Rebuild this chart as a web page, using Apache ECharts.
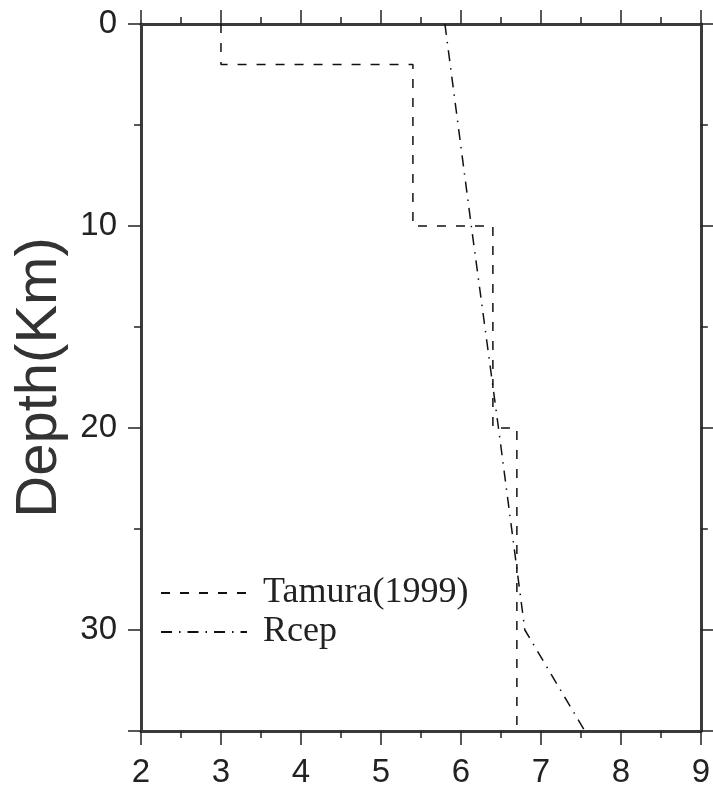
<!DOCTYPE html>
<html>
<head>
<meta charset="utf-8">
<script src="https://cdn.jsdelivr.net/npm/echarts@6/dist/echarts.min.js"></script>
<style>
  html, body { margin: 0; padding: 0; background: #fff; }
  #chart { width: 713px; height: 794px; }
</style>
</head>
<body>
<div id="chart"></div>
<script>
// Velocity models: [velocity (km/s), depth (km)]
const tamuraName = 'Tamura(1999)';
const tamuraVelocity = [3, 3, 5.4, 5.4, 6.4, 6.4, 6.7, 6.7];
const tamuraDepth    = [0, 2, 2, 10, 10, 20, 20, 35];

const rcepName = 'Rcep';
const rcepVelocity = [5.8, 6.13, 6.47, 6.8, 7.55];
const rcepDepth    = [0, 10, 20, 30, 35];

const xTicks = [2, 3, 4, 5, 6, 7, 8, 9];
const yTicks = [0, 10, 20, 30];
const yTitle = 'Depth(Km)';

const pairs = (xs, ys) => xs.map((x, i) => [x, ys[i]]);

const axisLineStyle = { color: '#3a3a3a', width: 3 };
const tickStyle = { color: '#222', width: 1.5 };

function xAxisDef(pos, showLabels) {
  return {
    type: 'value', position: pos,
    min: xTicks[0], max: xTicks[xTicks.length - 1], interval: 1,
    axisLine: { show: true, onZero: false, lineStyle: axisLineStyle },
    axisTick: { show: true, inside: false, length: 14, lineStyle: tickStyle },
    minorTick: { show: true, splitNumber: 2, length: 7, lineStyle: tickStyle },
    splitLine: { show: false },
    axisLabel: {
      show: showLabels, margin: 25, color: '#222',
      fontFamily: 'Liberation Sans, Arial, sans-serif', fontSize: 33
    }
  };
}

function yAxisDef(pos, showLabels) {
  return {
    type: 'value', position: pos, inverse: true,
    min: 0, max: 35, interval: 10,
    axisLine: { show: true, onZero: false, lineStyle: axisLineStyle },
    axisTick: { show: true, inside: false, length: 13, lineStyle: tickStyle },
    minorTick: { show: true, splitNumber: 2, length: 7, lineStyle: tickStyle },
    splitLine: { show: false },
    axisLabel: {
      show: showLabels, margin: 24, color: '#222', showMaxLabel: false,
      fontFamily: 'Liberation Sans, Arial, sans-serif', fontSize: 33,
      formatter: v => (yTicks.includes(v) ? String(v) : '')
    }
  };
}

const yLeft = yAxisDef('left', true);
yLeft.name = yTitle;
yLeft.nameLocation = 'middle';
yLeft.nameGap = 67;
yLeft.nameTextStyle = {
  fontFamily: 'Liberation Sans, Arial, sans-serif', fontSize: 58, color: '#333'
};

const lineColor = '#111';

const chart = echarts.init(document.getElementById('chart'), null, { renderer: 'canvas' });
chart.setOption({
  backgroundColor: '#fff',
  animation: false,
  color: [lineColor, lineColor],
  grid: { left: 141, right: 10, top: 24, bottom: 63, containLabel: false },
  xAxis: [xAxisDef('bottom', true), xAxisDef('top', false)],
  yAxis: [yLeft, yAxisDef('right', false)],
  legend: {
    orient: 'vertical', left: 155, top: 570,
    itemWidth: 86, itemHeight: 14, itemGap: 3,
    itemStyle: { opacity: 0 },
    textStyle: {
      fontFamily: 'Liberation Serif, Times New Roman, serif', fontSize: 36,
      color: '#222', padding: [0, 0, 0, 11]
    },
    data: [tamuraName, rcepName]
  },
  series: [
    {
      name: tamuraName, type: 'line', xAxisIndex: 0, yAxisIndex: 0,
      data: pairs(tamuraVelocity, tamuraDepth),
      symbol: 'none', silent: true,
      itemStyle: { color: lineColor },
      lineStyle: { color: lineColor, width: 1.5, type: [9, 10] }
    },
    {
      name: rcepName, type: 'line', xAxisIndex: 0, yAxisIndex: 0,
      data: pairs(rcepVelocity, rcepDepth),
      symbol: 'none', silent: true,
      itemStyle: { color: lineColor },
      lineStyle: { color: lineColor, width: 1.5, type: [11, 7, 1.5, 7] }
    }
  ]
});
</script>
</body>
</html>
